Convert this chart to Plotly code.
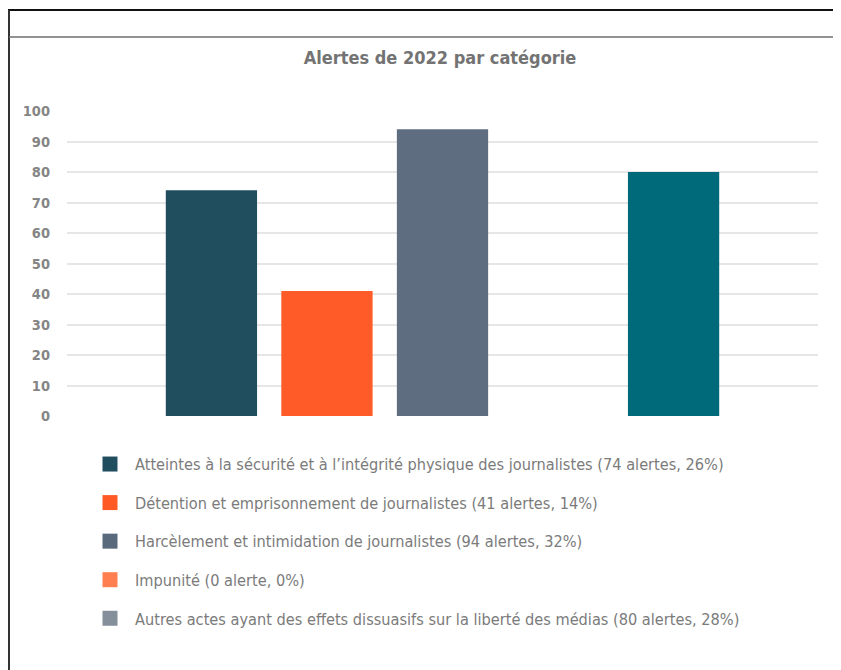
import plotly.graph_objects as go

# Données
CATEGORIES = [
    "Atteintes à la sécurité et à l’intégrité physique des journalistes",
    "Détention et emprisonnement de journalistes",
    "Harcèlement et intimidation de journalistes",
    "Impunité",
    "Autres actes ayant des effets dissuasifs sur la liberté des médias",
]
ALERTES = [74, 41, 94, 0, 80]
POURCENTAGES = [26, 14, 32, 0, 28]
COULEURS_BARRES = ["#214e5f", "#ff5b28", "#5e6e80", "#ff7f50", "#006a7a"]
COULEURS_LEGENDE = ["#214e5f", "#ff5a26", "#5a6a7d", "#ff7f50", "#858f9b"]
Y_TICKS = list(range(0, 101, 10))

FONT = "Liberation Sans Narrow, DejaVu Sans Condensed, Roboto, sans-serif"

# La page ajoute une marge de 8 px : la figure fait donc 833 x 662.
W, H = 833, 662
L, R, T, B = 59, 810, 103, 408  # zone de tracé, en pixels de la figure


def px(x):
    return (x - L) / (R - L)


def py(y):
    return (B - y) / (B - T)


def main():
    fig = go.Figure()

    fig.add_trace(
        go.Bar(
            x=CATEGORIES,
            y=ALERTES,
            marker_color=COULEURS_BARRES,
            marker_line_width=0,
            showlegend=False,
            hoverinfo="x+y",
        )
    )

    # Légende : une entrée par catégorie
    for i, (cat, n, pct) in enumerate(zip(CATEGORIES, ALERTES, POURCENTAGES)):
        mot = "alerte" if n <= 1 else "alertes"
        fig.add_trace(
            go.Scatter(
                x=[None],
                y=[None],
                mode="markers",
                marker_symbol="square",
                marker_size=15,
                marker_color=COULEURS_LEGENDE[i],
                name=f"{cat} ({n} {mot}, {pct}%)",
                legendgroup=f"g{i}",
            )
        )

    fig.update_xaxes(
        range=[-1.25, 5.25],
        showticklabels=False,
        showgrid=False,
        zeroline=False,
        showline=False,
    )

    fig.update_yaxes(
        range=[0, 100],
        tickvals=Y_TICKS,
        showgrid=True,
        gridcolor="#e6e6e6",
        gridwidth=1.5,
        zeroline=False,
        showline=False,
        ticks="",
        ticklabelstandoff=16,
        tickfont=dict(size=14.5, color="#858585", family=FONT, weight="bold"),
    )

    fig.update_layout(
        width=W,
        height=H,
        margin=dict(l=L, r=W - R, t=T, b=H - B),
        plot_bgcolor="white",
        paper_bgcolor="white",
        font_family=FONT,
        bargap=0.21,
        title=dict(
            text="<b>Alertes de 2022 par catégorie</b>",
            x=432 / W,
            xref="container",
            xanchor="center",
            y=1 - 50 / H,
            yref="container",
            yanchor="middle",
            font=dict(size=18, color="#737373", family=FONT),
        ),
        legend=dict(
            x=px(77),
            y=py(439),
            xanchor="left",
            yanchor="top",
            traceorder="grouped",
            tracegroupgap=14.5,
            font=dict(size=16.2, color="#7b7b7b", family=FONT),
            itemwidth=40,
            bgcolor="rgba(0,0,0,0)",
        ),
        shapes=[
            dict(type="line", xref="paper", yref="paper",
                 x0=px(0), x1=px(W), y0=py(2), y1=py(2),
                 line=dict(color="#111111", width=2)),
            dict(type="line", xref="paper", yref="paper",
                 x0=px(1), x1=px(1), y0=py(2), y1=py(H),
                 line=dict(color="#333333", width=2)),
            dict(type="line", xref="paper", yref="paper",
                 x0=px(1), x1=px(W), y0=py(29), y1=py(29),
                 line=dict(color="#6e6e6e", width=1.5)),
        ],
    )

    fig.write_html("out.html")


if __name__ == "__main__":
    main()
